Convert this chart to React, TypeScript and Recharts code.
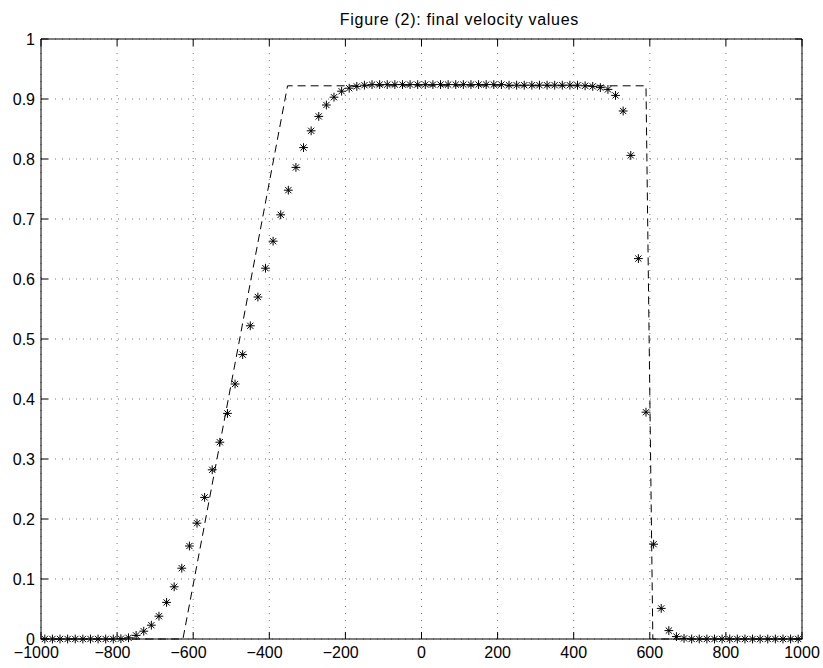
import { ComposedChart, Scatter, Line, XAxis, YAxis, CartesianGrid } from "recharts";

const W = 823;
const H = 668;
const FONT = '"Liberation Sans", Arial, Helvetica, sans-serif';
const FS = 16;
const TICK = 7;

const xTicks = [-1000, -800, -600, -400, -200, 0, 200, 400, 600, 800, 1000];
const yTicks = [0, 0.1, 0.2, 0.3, 0.4, 0.5, 0.6, 0.7, 0.8, 0.9, 1];

// cell centres of the computed solution
const sampleX = [
  -990, -970, -950, -930, -910, -890, -870, -850, -830, -810,
  -790, -770, -750, -730, -710, -690, -670, -650, -630, -610,
  -590, -570, -550, -530, -510, -490, -470, -450, -430, -410,
  -390, -370, -350, -330, -310, -290, -270, -250, -230, -210,
  -190, -170, -150, -130, -110, -90, -70, -50, -30, -10,
  10, 30, 50, 70, 90, 110, 130, 150, 170, 190,
  210, 230, 250, 270, 290, 310, 330, 350, 370, 390,
  410, 430, 450, 470, 490, 510, 530, 550, 570, 590,
  610, 630, 650, 670, 690, 710, 730, 750, 770, 790,
  810, 830, 850, 870, 890, 910, 930, 950, 970, 990,
];

const sampleV = [
  0, 0, 0, 0, 0, 0, 0, 0, 0, 0,
  0.0005, 0.002, 0.006, 0.013, 0.023, 0.038, 0.061, 0.087, 0.118, 0.155,
  0.193, 0.236, 0.282, 0.328, 0.376, 0.425, 0.474, 0.522, 0.57, 0.618,
  0.663, 0.707, 0.748, 0.786, 0.819, 0.847, 0.871, 0.89, 0.903, 0.913,
  0.918, 0.921, 0.923, 0.924, 0.924, 0.924, 0.924, 0.924, 0.924, 0.924,
  0.924, 0.924, 0.924, 0.924, 0.924, 0.924, 0.924, 0.924, 0.924, 0.924,
  0.924, 0.923, 0.923, 0.923, 0.923, 0.923, 0.923, 0.923, 0.923, 0.923,
  0.923, 0.922, 0.921, 0.919, 0.916, 0.906, 0.88, 0.806, 0.634, 0.378,
  0.158, 0.051, 0.014, 0.004, 0.001, 0, 0, 0, 0, 0,
  0, 0, 0, 0, 0, 0, 0, 0, 0, 0,
];

// exact profile (dashed)
const exactX = [-1000, -627, -352, 590, 608, 1000];
const exactV = [0, 0, 0.922, 0.922, 0, 0];

const samples = sampleX.map((x, i) => ({ x, v: sampleV[i] }));
const exact = exactX.map((x, i) => ({ x, v: exactV[i] }));

const fmtY = (v: number) => (v === 0 || v === 1 ? String(v) : v.toFixed(1));

// labels sit under the digits; the minus sign hangs to the left
function BottomTick({ x, y, payload }: any) {
  const v = payload.value as number;
  const digits = String(Math.abs(v));
  const half = (digits.length * 0.556 * FS) / 2;
  return (
    <g>
      <line x1={x} x2={x} y1={y} y2={y - TICK} stroke="#000" />
      <text x={x} y={y + 19} textAnchor="middle" fontSize={FS} fontFamily={FONT} fill="#000">
        {digits}
      </text>
      {v < 0 && (
        <text x={x - half} y={y + 19} textAnchor="end" fontSize={FS} fontFamily={FONT} fill="#000">
          {"\u2212"}
        </text>
      )}
    </g>
  );
}

function TopTick({ x, y }: any) {
  return <line x1={x} x2={x} y1={y} y2={y + TICK} stroke="#000" />;
}

function LeftTick({ x, y, payload }: any) {
  return (
    <g>
      <line x1={x} x2={x + TICK} y1={y} y2={y} stroke="#000" />
      <text x={x - 6} y={y + 5.5} textAnchor="end" fontSize={FS} fontFamily={FONT} fill="#000">
        {fmtY(payload.value)}
      </text>
    </g>
  );
}

function RightTick({ x, y }: any) {
  return <line x1={x} x2={x - TICK} y1={y} y2={y} stroke="#000" />;
}

// asterisk marker
function Star({ cx, cy }: any) {
  const r = 4.4;
  const d = 3.1;
  return (
    <path
      d={`M${cx - r},${cy}H${cx + r}M${cx},${cy - r}V${cy + r}M${cx - d},${cy - d}L${cx + d},${cy + d}M${cx - d},${cy + d}L${cx + d},${cy - d}`}
      stroke="#000"
      strokeWidth={1}
      fill="none"
    />
  );
}

export default function App() {
  return (
    <div style={{ position: "absolute", left: 0, top: 0, width: W, height: H, background: "#fff" }}>
      <div
        style={{
          position: "absolute",
          left: 0,
          top: 11,
          width: 579,
          textAlign: "right",
          fontFamily: FONT,
          fontSize: 16,
          letterSpacing: "0.7px",
          lineHeight: "18px",
          color: "#000",
          whiteSpace: "nowrap",
        }}
      >
        Figure (2): final velocity values
      </div>
      <ComposedChart width={W} height={H} margin={{ top: 38, right: 20, bottom: 28, left: 40 }}>
        <CartesianGrid stroke="#777" strokeDasharray="1 6" />
        <XAxis
          dataKey="x"
          type="number"
          domain={[-1000, 1000]}
          ticks={xTicks}
          interval={0}
          height={1}
          tickSize={0}
          tickMargin={0}
          tickLine={false}
          axisLine={{ stroke: "#000" }}
          tick={BottomTick}
        />
        <XAxis
          xAxisId="top"
          orientation="top"
          dataKey="x"
          type="number"
          domain={[-1000, 1000]}
          ticks={xTicks}
          interval={0}
          height={1}
          tickSize={0}
          tickMargin={0}
          tickLine={false}
          axisLine={{ stroke: "#000" }}
          tick={TopTick}
        />
        <YAxis
          type="number"
          domain={[0, 1]}
          ticks={yTicks}
          interval={0}
          width={1}
          tickSize={0}
          tickMargin={0}
          tickLine={false}
          axisLine={{ stroke: "#000" }}
          tick={LeftTick}
        />
        <YAxis
          yAxisId="right"
          orientation="right"
          type="number"
          domain={[0, 1]}
          ticks={yTicks}
          interval={0}
          width={1}
          tickSize={0}
          tickMargin={0}
          tickLine={false}
          axisLine={{ stroke: "#000" }}
          tick={RightTick}
        />
        <Line
          data={exact}
          dataKey="v"
          xAxisId="top"
          yAxisId="right"
          type="linear"
          stroke="#000"
          strokeWidth={1}
          strokeDasharray="8 5"
          dot={false}
          activeDot={false}
          isAnimationActive={false}
        />
        <Scatter data={samples} dataKey="v" shape={Star} isAnimationActive={false} />
      </ComposedChart>
    </div>
  );
}
